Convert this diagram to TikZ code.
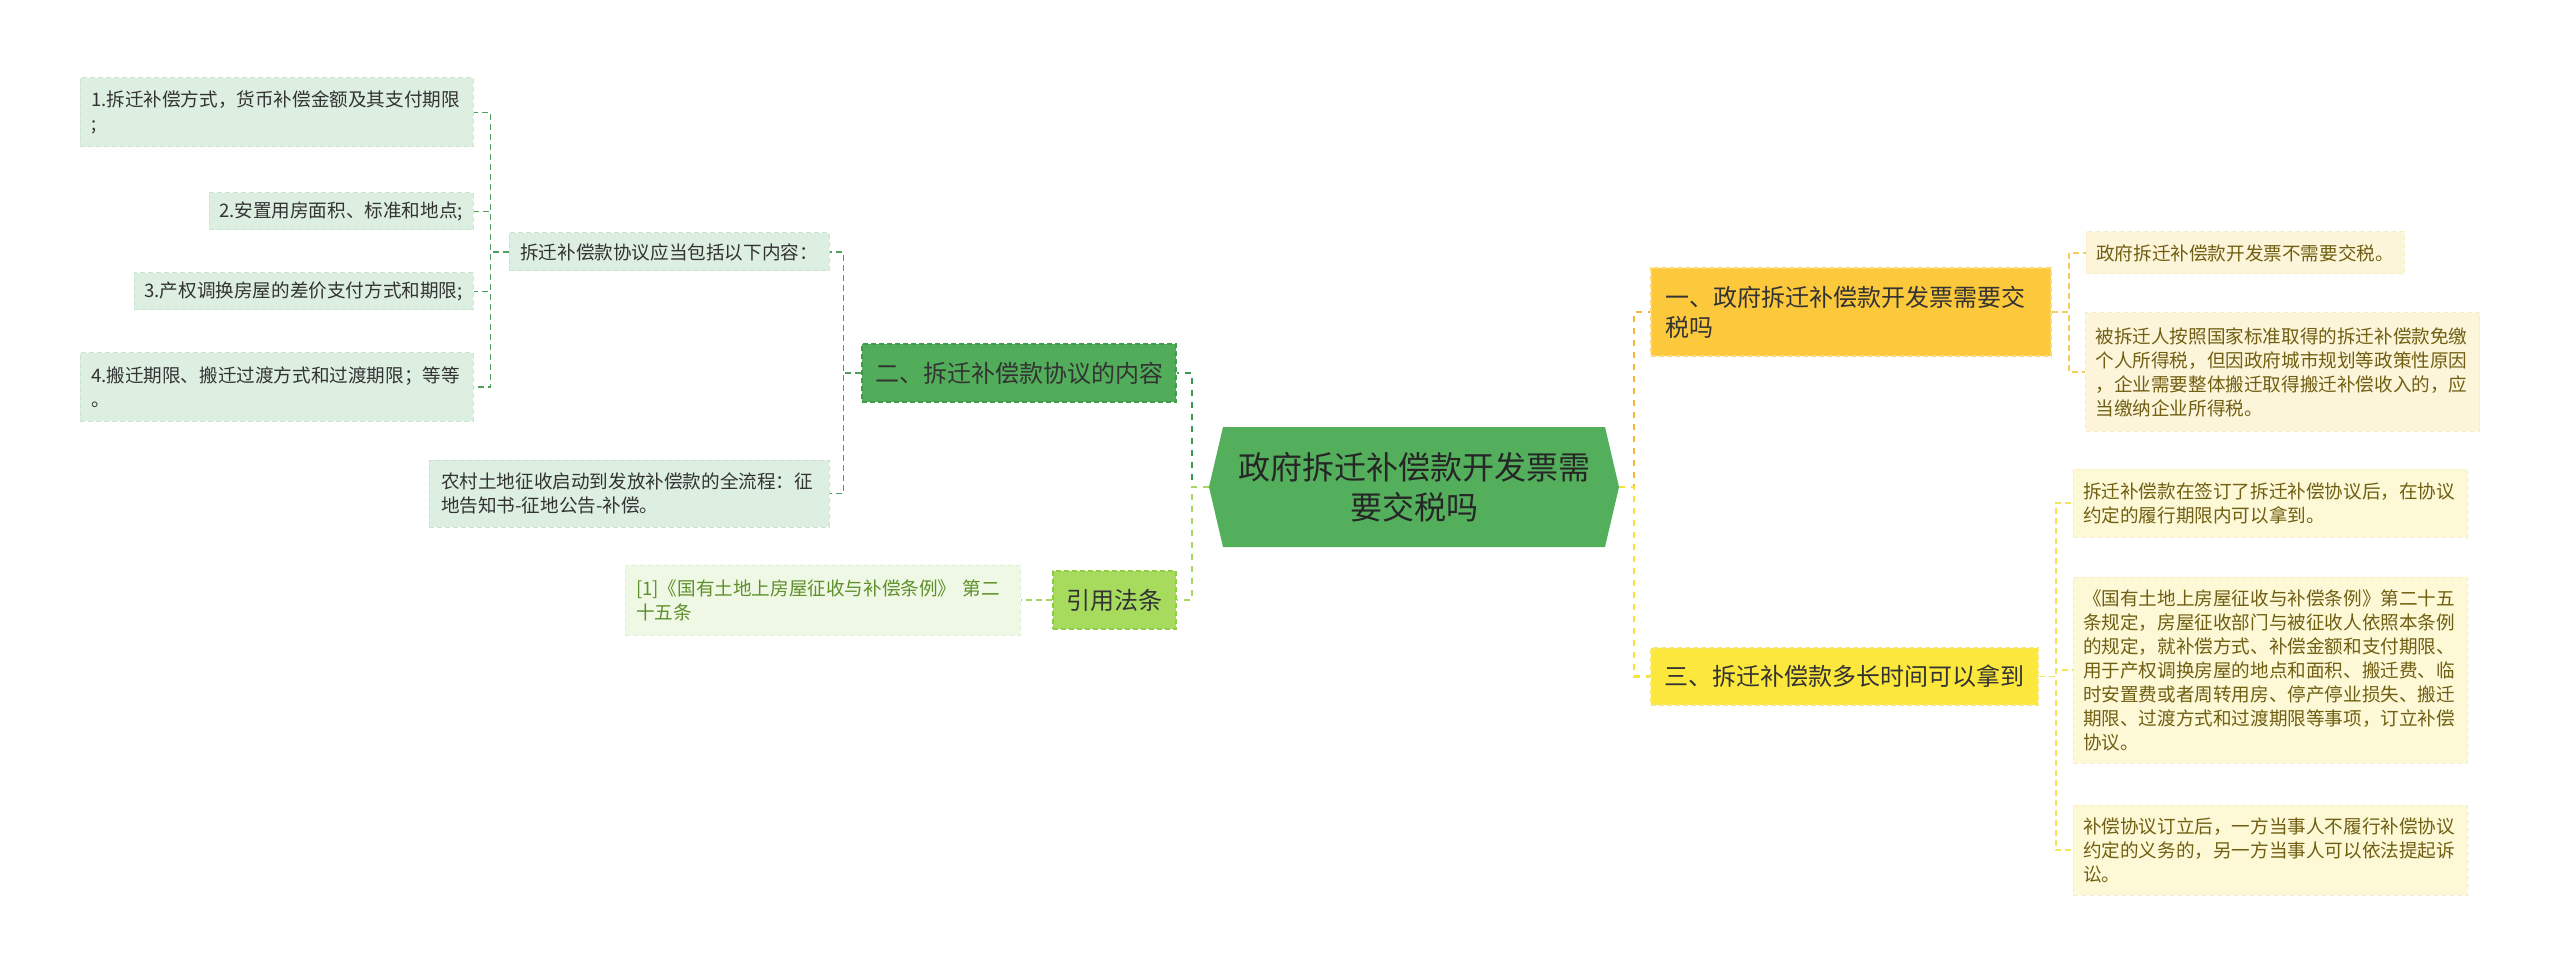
\documentclass[tikz,border=0pt]{standalone}
\usepackage{fontspec}
\setmainfont{Noto Sans CJK SC}
\definecolor{cfill}{HTML}{54AF5C}
\definecolor{b2fill}{HTML}{52AD5A}
\definecolor{b2draw}{HTML}{3F9A4A}
\definecolor{qfill}{HTML}{A6DB5E}
\definecolor{qdraw}{HTML}{8FCB45}
\definecolor{reffill}{HTML}{EFF8E4}
\definecolor{refdraw}{HTML}{E2F0D2}
\definecolor{reftext}{HTML}{5E8F2B}
\definecolor{llfill}{HTML}{DDEFE1}
\definecolor{lldraw}{HTML}{CBE4D1}
\definecolor{dtext}{HTML}{333333}
\definecolor{b1fill}{HTML}{FCC93D}
\definecolor{b1draw}{HTML}{F8DA7A}
\definecolor{b3fill}{HTML}{FCE83C}
\definecolor{b3draw}{HTML}{F5E87A}
\definecolor{rofill}{HTML}{FDF5DA}
\definecolor{ryfill}{HTML}{FDF8D6}
\definecolor{rdraw}{HTML}{F7EDC4}
\definecolor{rtext}{HTML}{705F12}
\definecolor{dkg}{HTML}{3E9A4C}
\definecolor{gleaf}{HTML}{4E9F5C}
\definecolor{lg}{HTML}{A8D760}
\definecolor{lgl}{HTML}{A8D35F}
\definecolor{org}{HTML}{F3B73A}
\definecolor{yel}{HTML}{F5E23A}
\definecolor{orl}{HTML}{F7CB5C}
\definecolor{yell}{HTML}{F3E45A}
\begin{document}
\begin{tikzpicture}[x=1pt,y=-1pt,
  box/.style={rectangle, inner sep=0pt, dashed, line width=1pt, dash pattern=on 5pt off 3pt},
  leaf/.style={box, align=left, font=\fontsize{18.6}{24}\selectfont},
  branch/.style={box, align=left, font=\fontsize{24}{30}\selectfont, text=dtext, line width=1.5pt},
  lnode/.style={leaf, fill=llfill, draw=lldraw, text=dtext},
  rnode/.style={leaf, draw=rdraw, text=rtext, text width=374pt, minimum width=394pt},
  mc/.style={line width=2.5pt, dash pattern=on 6pt off 6pt},
  lc/.style={line width=1.5pt, dash pattern=on 6pt off 4pt}]
\useasboundingbox (0,0) rectangle (2560,976);

% left leaves
\node[lnode, minimum width=393pt, minimum height=69pt, text width=371pt] (L1) at (276.5,112.5)
  {1.拆迁补偿方式，货币补偿金额及其支付期限\\;};
\node[lnode, minimum width=264pt, minimum height=37pt] (L2) at (341,211.5)
  {2.安置用房面积、标准和地点;};
\node[lnode, minimum width=339pt, minimum height=37pt] (L3) at (303.5,291.5)
  {3.产权调换房屋的差价支付方式和期限;};
\node[lnode, minimum width=393pt, minimum height=68pt, text width=371pt] (L4) at (276.5,387)
  {4.搬迁期限、搬迁过渡方式和过渡期限；等等\\。};
\node[lnode, minimum width=320pt, minimum height=38pt] (S) at (669,252)
  {拆迁补偿款协议应当包括以下内容：};
\node[lnode, minimum width=400pt, minimum height=67pt, text width=376pt] (N) at (629,493.5)
  {农村土地征收启动到发放补偿款的全流程：征\\地告知书-征地公告-补偿。};

% left branches
\node[branch, fill=b2fill, draw=b2draw, minimum width=314pt, minimum height=58pt] (B2) at (1019,373)
  {二、拆迁补偿款协议的内容};
\node[branch, fill=qfill, draw=qdraw, minimum width=123pt, minimum height=58pt] (Q) at (1114.5,600)
  {引用法条};
\node[leaf, fill=reffill, draw=refdraw, text=reftext, minimum width=395pt, minimum height=70pt, text width=373pt] (Ref) at (822.5,600)
  {[1]《国有土地上房屋征收与补偿条例》 第二\\十五条};

% center
\fill[cfill] (1209,487) -- (1223,427) -- (1605,427) -- (1619,487) -- (1605,547) -- (1223,547) -- cycle;
\node[align=center, text=black!85, font=\fontsize{32}{40}\selectfont] (C) at (1414,487)
  {政府拆迁补偿款开发票需\\要交税吗};
\coordinate (Cl) at (1209,487);
\coordinate (Cr) at (1619,487);

% right branches
\node[branch, fill=b1fill, draw=b1draw, minimum width=400pt, minimum height=88pt, text width=372pt] (B1) at (1851,312)
  {一、政府拆迁补偿款开发票需要交\\税吗};
\node[branch, fill=b3fill, draw=b3draw, minimum width=387pt, minimum height=57pt] (B3) at (1844.5,676.5)
  {三、拆迁补偿款多长时间可以拿到};

% right leaves
\node[leaf, fill=rofill, draw=rdraw, text=rtext, minimum width=318pt, minimum height=42pt] (R1) at (2245,253)
  {政府拆迁补偿款开发票不需要交税。};
\node[rnode, fill=rofill, minimum height=118pt] (R2) at (2282.5,372)
  {被拆迁人按照国家标准取得的拆迁补偿款免缴\\个人所得税，但因政府城市规划等政策性原因\\，企业需要整体搬迁取得搬迁补偿收入的，应\\当缴纳企业所得税。};
\node[rnode, fill=ryfill, minimum height=68pt] (R3) at (2270,503)
  {拆迁补偿款在签订了拆迁补偿协议后，在协议\\约定的履行期限内可以拿到。};
\node[rnode, fill=ryfill, minimum height=186pt] (R4) at (2270,670)
  {《国有土地上房屋征收与补偿条例》第二十五\\条规定，房屋征收部门与被征收人依照本条例\\的规定，就补偿方式、补偿金额和支付期限、\\用于产权调换房屋的地点和面积、搬迁费、临\\时安置费或者周转用房、停产停业损失、搬迁\\期限、过渡方式和过渡期限等事项，订立补偿\\协议。};
\node[rnode, fill=ryfill, minimum height=90pt] (R5) at (2270,850)
  {补偿协议订立后，一方当事人不履行补偿协议\\约定的义务的，另一方当事人可以依法提起诉\\讼。};

% connectors left
\foreach \n in {L1,L2,L3,L4}
  \draw[lc, draw=gleaf] (S.west) -- ++(-18,0) |- (\n.east);
\draw[lc, draw=gleaf] (B2.west) -- ++(-18,0) |- (S.east);
\draw[lc, draw=gleaf] (B2.west) -- ++(-18,0) |- (N.east);
\draw[mc, draw=dkg] (Cl) -- ++(-17,0) |- (B2.east);
\draw[mc, draw=lg] (Cl) -- ++(-17,0) |- (Q.east);
\draw[lc, draw=lgl] (Q.west) -- (Ref.east);

% connectors right
\draw[mc, draw=org] (Cr) -- ++(15,0) |- (B1.west);
\draw[mc, draw=yel] (Cr) -- ++(15,0) |- (B3.west);
\draw[lc, draw=orl] (B1.east) -- ++(17,0) |- (R1.west);
\draw[lc, draw=orl] (B1.east) -- ++(17,0) |- (R2.west);
\foreach \n in {R3,R4,R5}
  \draw[lc, draw=yell] (B3.east) -- ++(17,0) |- (\n.west);
\end{tikzpicture}
\end{document}
